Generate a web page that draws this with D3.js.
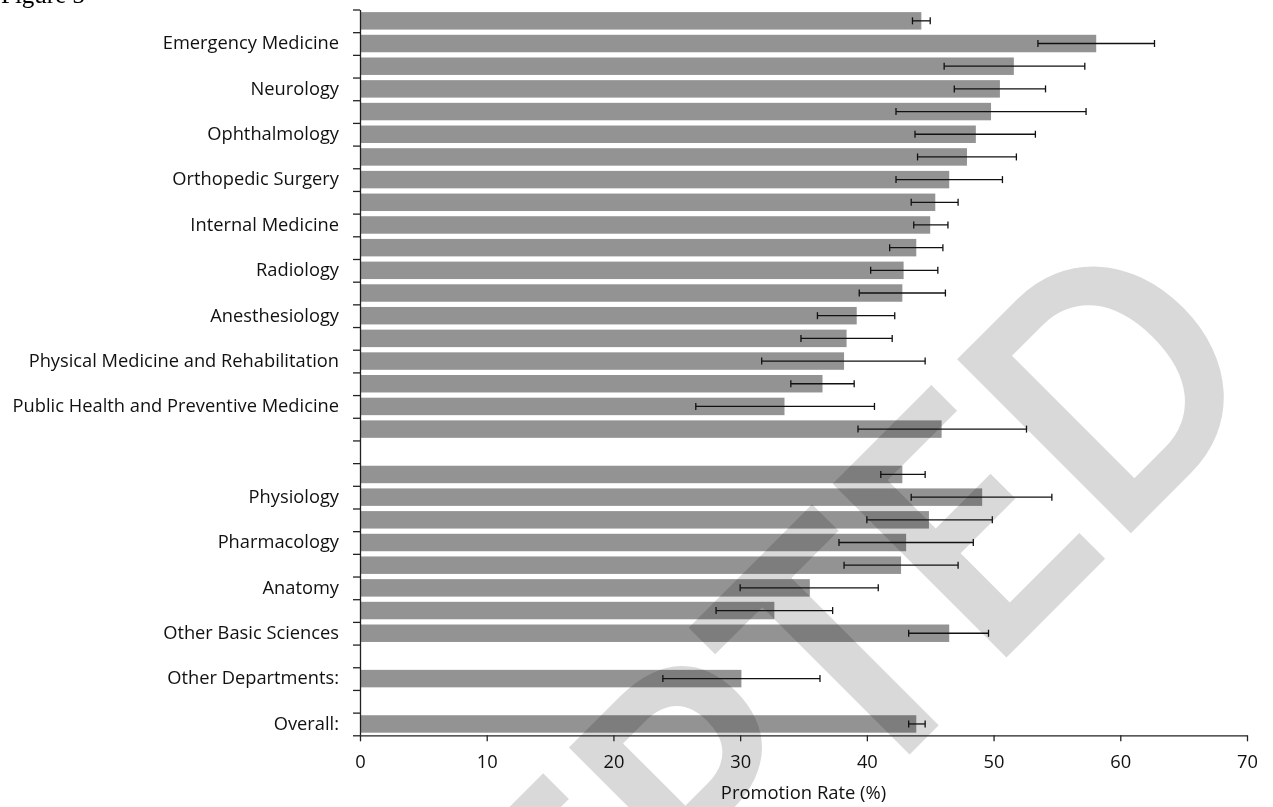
<!DOCTYPE html>
<html>
<head>
<meta charset="utf-8">
<script src="https://cdn.jsdelivr.net/npm/d3@7"></script>
<style>
  body { margin: 0; background: #fff; }
  svg { display: block; }
</style>
</head>
<body>
<svg class="chart"></svg>
<script>
let width = 1273, height = 807;

// category labels (only every other one is printed on the axis)
let categories = ["", "Emergency Medicine", "", "Neurology", "", "Ophthalmology", "", "Orthopedic Surgery",
  "", "Internal Medicine", "", "Radiology", "", "Anesthesiology", "", "Physical Medicine and Rehabilitation",
  "", "Public Health and Preventive Medicine", "", "", "", "Physiology", "", "Pharmacology", "", "Anatomy",
  "", "Other Basic Sciences", "", "Other Departments:", "", "Overall:"];

// promotion rate (%) and error bar limits, null = spacer row
let rates = [44.3, 58.1, 51.6, 50.5, 49.8, 48.6, 47.9, 46.5, 45.4, 45.0, 43.9, 42.9, 42.8, 39.2, 38.4, 38.2,
  36.5, 33.5, 45.9, null, 42.8, 49.1, 44.9, 43.1, 42.7, 35.5, 32.7, 46.5, null, 30.1, null, 43.9];
let lower = [43.6, 53.5, 46.1, 46.9, 42.3, 43.8, 44.0, 42.3, 43.5, 43.7, 41.8, 40.3, 39.4, 36.1, 34.8, 31.7,
  34.0, 26.5, 39.3, null, 41.1, 43.5, 40.0, 37.8, 38.2, 30.0, 28.1, 43.3, null, 23.9, null, 43.3];
let upper = [45.0, 62.7, 57.2, 54.1, 57.3, 53.3, 51.8, 50.7, 47.2, 46.4, 46.0, 45.6, 46.2, 42.2, 42.0, 44.6,
  39.0, 40.6, 52.6, null, 44.6, 54.6, 49.9, 48.4, 47.2, 40.9, 37.3, 49.6, null, 36.3, null, 44.6];

let xTicks = [0, 10, 20, 30, 40, 50, 60, 70];

let rows = categories.map((c, i) => ({ i: i, label: c, rate: rates[i], lo: lower[i], hi: upper[i] }));

let plot = { left: 360, right: 1247, top: 9.5, bottom: 735.3 };
let font = "'Open Sans', sans-serif";

let svg = d3.select(".chart")
  .attr("width", width)
  .attr("height", height);

// "Figure 3" heading, cut off at the top of the page
svg.append("text")
  .attr("x", 1)
  .attr("y", 3)
  .style("font-family", "'Liberation Serif', serif")
  .style("font-size", "25px")
  .text("Figure 3");

let x = d3.scaleLinear().domain([0, 70]).range([plot.left, plot.right]);
let y = d3.scaleBand().domain(d3.range(rows.length)).range([plot.top, plot.bottom])
  .paddingInner(0.23).paddingOuter(0.115);
let yEdge = d3.scaleLinear().domain([0, rows.length]).range([plot.top, plot.bottom]);

// bars
svg.append("g")
  .selectAll("rect")
  .data(rows.filter(d => d.rate != null))
  .join("rect")
  .attr("x", x(0))
  .attr("y", d => y(d.i))
  .attr("width", d => x(d.rate) - x(0))
  .attr("height", y.bandwidth())
  .style("fill", "#939393");

// watermark
svg.append("text")
  .attr("transform", "translate(1278,386) rotate(-45) scale(0.9,1)")
  .attr("text-anchor", "end")
  .style("font-family", "Lato, sans-serif")
  .style("font-weight", "bold")
  .style("font-size", "340px")
  .style("fill", "#d9d9d9")
  .style("mix-blend-mode", "multiply")
  .text("ACCEPTED");

// error bars
let err = svg.append("g")
  .selectAll("g")
  .data(rows.filter(d => d.rate != null))
  .join("g")
  .attr("transform", d => "translate(0," + (y(d.i) + y.bandwidth() / 2) + ")")
  .style("stroke", "#111")
  .style("stroke-width", 1.3);
err.append("line").attr("x1", d => x(d.lo)).attr("x2", d => x(d.hi));
err.append("line").attr("x1", d => x(d.lo)).attr("x2", d => x(d.lo)).attr("y1", -3.5).attr("y2", 3.5);
err.append("line").attr("x1", d => x(d.hi)).attr("x2", d => x(d.hi)).attr("y1", -3.5).attr("y2", 3.5);

// y axis: ticks between the rows
svg.append("g")
  .attr("transform", "translate(" + plot.left + ",0)")
  .call(d3.axisLeft(yEdge).tickValues(d3.range(rows.length + 1)).tickFormat("").tickSize(7).tickSizeOuter(0));

// category labels
svg.append("g")
  .attr("transform", "translate(" + (plot.left - 21) + ",0)")
  .call(d3.axisLeft(y).tickFormat(i => categories[i]).tickSize(0).tickPadding(0))
  .call(g => g.select(".domain").remove());

// x axis
svg.append("g")
  .attr("transform", "translate(0," + plot.bottom + ")")
  .call(d3.axisBottom(x).tickValues(xTicks).tickSize(6).tickSizeOuter(0).tickPadding(14));

svg.selectAll(".tick text")
  .style("font-family", font)
  .style("font-size", "18.3px")
  .style("fill", "#111");
svg.selectAll(".domain, .tick line").style("stroke", "#222").style("stroke-width", 1.3);

svg.append("text")
  .attr("x", (plot.left + plot.right) / 2)
  .attr("y", 799)
  .attr("text-anchor", "middle")
  .style("font-family", font)
  .style("font-size", "18.4px")
  .style("fill", "#111")
  .text("Promotion Rate (%)");
</script>
</body>
</html>
